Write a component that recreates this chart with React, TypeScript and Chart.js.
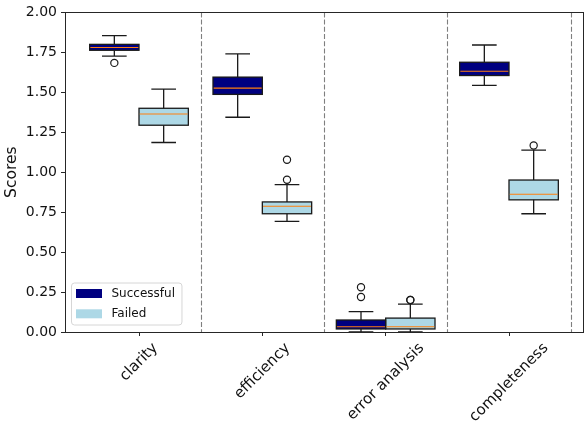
import React, { useEffect, useRef } from "react";
import { Chart, registerables } from "chart.js";

Chart.register(...registerables);

const categories = ["clarity", "efficiency", "error analysis", "completeness"];
const seriesNames = ["Successful", "Failed"];
const seriesColors = ["#000080", "#ADD8E6"];

// Successful: whisker low, Q1, median, Q3, whisker high, outliers
const successfulLow = [1.726, 1.344, 0.0, 1.543];
const successfulQ1 = [1.763, 1.487, 0.019, 1.605];
const successfulMedian = [1.78, 1.526, 0.033, 1.632];
const successfulQ3 = [1.8, 1.595, 0.075, 1.688];
const successfulHigh = [1.855, 1.74, 0.128, 1.796];
const successfulOutliers = [[1.684], [], [0.219, 0.28], []];

// Failed
const failedLow = [1.186, 0.692, 0.0, 0.74];
const failedQ1 = [1.294, 0.74, 0.019, 0.827];
const failedMedian = [1.364, 0.787, 0.033, 0.862];
const failedQ3 = [1.4, 0.814, 0.087, 0.951];
const failedHigh = [1.52, 0.922, 0.174, 1.138];
const failedOutliers = [[], [0.953, 1.078], [0.2, 0.2], [1.167]];

const yTicks = [0, 0.25, 0.5, 0.75, 1.0, 1.25, 1.5, 1.75, 2.0];
const yTitle = "Scores";

const FONT = "'DejaVu Sans', 'Liberation Sans', sans-serif";

export default function App() {
  const ref = useRef<HTMLCanvasElement>(null);

  useEffect(() => {
    const canvas = ref.current;
    if (!canvas) return;

    const series = [
      { name: seriesNames[0], color: seriesColors[0], low: successfulLow, q1: successfulQ1, median: successfulMedian, q3: successfulQ3, high: successfulHigh, outliers: successfulOutliers },
      { name: seriesNames[1], color: seriesColors[1], low: failedLow, q1: failedQ1, median: failedMedian, q3: failedQ3, high: failedHigh, outliers: failedOutliers },
    ];
    const separators = categories.map((_, i) => i + 1.5);

    const decor = {
      id: "boxDecor",
      beforeDatasetsDraw(chart: any) {
        const { ctx, chartArea: ca, scales } = chart;
        const x = scales.x;
        ctx.save();
        ctx.strokeStyle = "#7f7f7f";
        ctx.lineWidth = 1.1;
        ctx.setLineDash([5, 2.2]);
        separators.forEach((v) => {
          const px = Math.round(x.getPixelForValue(v)) + 0.5;
          ctx.beginPath();
          ctx.moveTo(px, ca.top);
          ctx.lineTo(px, ca.bottom);
          ctx.stroke();
        });
        ctx.restore();
      },
      afterDatasetsDraw(chart: any) {
        const { ctx, chartArea: ca, scales } = chart;
        const y = scales.y;
        ctx.save();
        series.forEach((s, di) => {
          const meta = chart.getDatasetMeta(di);
          meta.data.forEach((el: any, i: number) => {
            const cx = el.x;
            const w = el.width;
            const pLow = y.getPixelForValue(s.low[i]);
            const pQ1 = y.getPixelForValue(s.q1[i]);
            const pQ3 = y.getPixelForValue(s.q3[i]);
            const pHigh = y.getPixelForValue(s.high[i]);
            const pMed = y.getPixelForValue(s.median[i]);
            ctx.strokeStyle = "#1a1a1a";
            ctx.lineWidth = 1.3;
            ctx.beginPath();
            ctx.moveTo(cx, pQ1);
            ctx.lineTo(cx, pLow);
            ctx.moveTo(cx, pQ3);
            ctx.lineTo(cx, pHigh);
            ctx.moveTo(cx - w / 4, pLow);
            ctx.lineTo(cx + w / 4, pLow);
            ctx.moveTo(cx - w / 4, pHigh);
            ctx.lineTo(cx + w / 4, pHigh);
            ctx.stroke();
            // box outline
            ctx.strokeRect(cx - w / 2, pQ3, w, pQ1 - pQ3);
            // median
            ctx.strokeStyle = "#ff7f0e";
            ctx.lineWidth = 1.1;
            ctx.beginPath();
            ctx.moveTo(cx - w / 2 + 0.7, pMed);
            ctx.lineTo(cx + w / 2 - 0.7, pMed);
            ctx.stroke();
            // outliers
            ctx.strokeStyle = "#1a1a1a";
            ctx.lineWidth = 1.2;
            s.outliers[i].forEach((v) => {
              const py = y.getPixelForValue(v);
              ctx.beginPath();
              ctx.arc(cx, py, 3.6, 0, Math.PI * 2);
              ctx.stroke();
            });
          });
        });
        // spines
        ctx.strokeStyle = "#262626";
        ctx.lineWidth = 1;
        ctx.strokeRect(Math.round(ca.left) + 0.5, Math.round(ca.top) + 0.5, Math.round(ca.right - ca.left), Math.round(ca.bottom - ca.top));
        ctx.restore();
      },
      afterDraw(chart: any) {
        const { ctx, chartArea: ca, scales } = chart;
        const x = scales.x;
        ctx.save();
        // x tick labels, rotated 45deg, bbox centred on tick
        const fs = 15;
        ctx.font = `${fs}px ${FONT}`;
        ctx.fillStyle = "#111";
        ctx.textAlign = "center";
        ctx.textBaseline = "middle";
        const top = ca.bottom + 4 + 3.5;
        categories.forEach((c, i) => {
          const px = x.getPixelForValue(i + 1);
          const w = ctx.measureText(c).width;
          const h = fs * 1.17;
          const bb = (w + h) * Math.SQRT1_2;
          ctx.save();
          ctx.translate(px, top + bb / 2);
          ctx.rotate(-Math.PI / 4);
          ctx.fillText(c, 0, 0);
          ctx.restore();
        });

        // legend
        ctx.font = `12px ${FONT}`;
        const maxW = Math.max(...series.map((s) => ctx.measureText(s.name).width));
        const lx = ca.left + 6.5;
        const lw = 40 + maxW + 7;
        const lh = 42;
        const ly = ca.bottom - 7 - lh;
        const r = 3;
        ctx.beginPath();
        ctx.moveTo(lx + r, ly);
        ctx.lineTo(lx + lw - r, ly);
        ctx.quadraticCurveTo(lx + lw, ly, lx + lw, ly + r);
        ctx.lineTo(lx + lw, ly + lh - r);
        ctx.quadraticCurveTo(lx + lw, ly + lh, lx + lw - r, ly + lh);
        ctx.lineTo(lx + r, ly + lh);
        ctx.quadraticCurveTo(lx, ly + lh, lx, ly + lh - r);
        ctx.lineTo(lx, ly + r);
        ctx.quadraticCurveTo(lx, ly, lx + r, ly);
        ctx.closePath();
        ctx.fillStyle = "rgba(255,255,255,0.8)";
        ctx.fill();
        ctx.strokeStyle = "#d6d6d6";
        ctx.lineWidth = 1;
        ctx.stroke();
        ctx.textAlign = "left";
        ctx.textBaseline = "middle";
        series.forEach((s, i) => {
          const cy = ly + 10.5 + i * 20.3;
          ctx.fillStyle = s.color;
          ctx.fillRect(lx + 4.5, cy - 4.5, 26, 9);
          ctx.fillStyle = "#111";
          ctx.fillText(s.name, lx + 40, cy + 0.5);
        });
        ctx.restore();
      },
    };

    const chart = new Chart(canvas, {
      type: "bar",
      data: {
        datasets: series.map((s) => ({
          label: s.name,
          data: categories.map((_, i) => ({ x: i + 1, y: [s.q1[i], s.q3[i]] })),
          backgroundColor: s.color,
          borderWidth: 0,
          borderSkipped: false,
          categoryPercentage: 0.8,
          barPercentage: 1.0,
        })) as any,
      },
      options: {
        animation: false,
        responsive: true,
        maintainAspectRatio: false,
        events: [],
        layout: { padding: { top: 11, right: 3, left: 0, bottom: 0 } },
        plugins: {
          legend: { display: false },
          tooltip: { enabled: false },
        },
        scales: {
          x: {
            type: "linear",
            min: 0.4,
            max: 4.6,
            offset: false,
            afterBuildTicks: (s: any) => {
              s.ticks = categories.map((_, i) => ({ value: i + 1 }));
            },
            ticks: { display: false },
            grid: { drawOnChartArea: false, drawTicks: true, tickLength: 4, color: "#262626", offset: false },
            border: { display: false },
            afterFit: (s: any) => {
              s.height = 96;
            },
          },
          y: {
            type: "linear",
            min: 0,
            max: 2,
            afterBuildTicks: (s: any) => {
              s.ticks = yTicks.map((v) => ({ value: v }));
            },
            ticks: {
              callback: (v: any) => Number(v).toFixed(2),
              font: { family: FONT, size: 14 },
              color: "#111",
              padding: 4,
            },
            grid: { drawOnChartArea: false, drawTicks: true, tickLength: 4, color: "#262626" },
            border: { display: false },
            title: {
              display: true,
              text: yTitle,
              font: { family: FONT, size: 15.5 },
              color: "#111",
              padding: { top: 3, bottom: 0 },
            },
            afterFit: (s: any) => {
              s.width = 65;
            },
          },
        } as any,
      },
      plugins: [decor],
    });

    return () => chart.destroy();
  }, []);

  return (
    <div style={{ position: "absolute", left: 0, top: 0, width: 586, height: 428, background: "#fff" }}>
      <canvas ref={ref} />
    </div>
  );
}
